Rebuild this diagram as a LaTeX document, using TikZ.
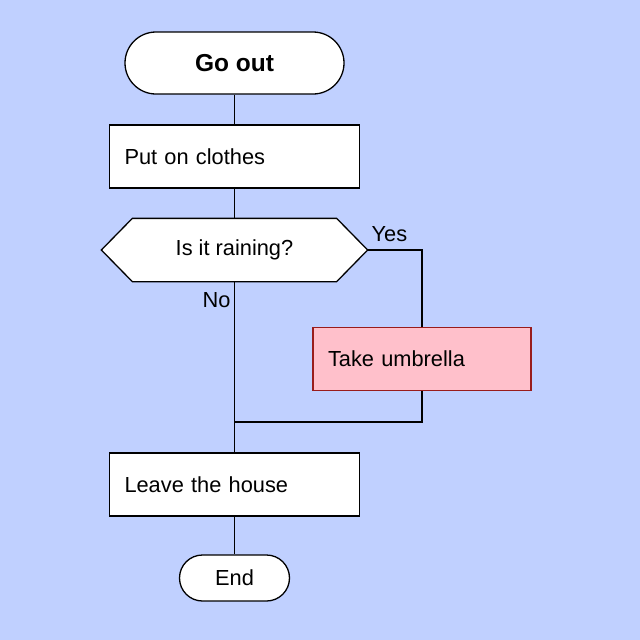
\documentclass[tikz,border=0pt]{standalone}
\usepackage{fontspec}
\setmainfont{Liberation Sans}
\usetikzlibrary{positioning,shapes.misc,backgrounds}
\definecolor{bgblue}{HTML}{C0D0FF}
\definecolor{umbpink}{HTML}{FFC0CB}
\definecolor{umbred}{HTML}{991C1C}

\begin{document}
\begin{tikzpicture}[
    x=1pt, y=-1pt,
    font=\fontsize{21.8}{26}\selectfont,
    every path/.style={line width=1.3pt},
    terminal/.style={rounded rectangle, draw=black, fill=white, minimum height=62pt, inner sep=0pt},
    stepbox/.style={rectangle, draw=black, fill=white, minimum width=250pt, minimum height=63pt, text width=220pt, inner xsep=15pt, align=left},
    decision/.style={rectangle, minimum width=265pt, minimum height=62pt, inner sep=0pt},
    ]
    %Nodes
    \node[terminal, minimum width=219pt, font=\fontsize{24.5}{28}\selectfont\bfseries] (start) at (234.5,63) {Go out};
    \node[stepbox]   (clothes) [below=29.7pt of start] {Put on clothes};
    \node[decision]  (rain)    [below=29.7pt of clothes] {Is it raining?};
    \node[stepbox, draw=umbred, fill=umbpink, minimum width=218pt, text width=188pt] (umbrella) at (422,359) {Take umbrella};
    \node[stepbox]   (leave)   [below=170.7pt of rain] {Leave the house};
    \node[terminal, minimum width=110pt, minimum height=46pt] (finish) [below=37.7pt of leave] {End};
    \coordinate (join) at (235,422);

    %Background and hexagon
    \begin{scope}[on background layer]
    \fill[bgblue] (0,0) rectangle (640,640);
    \draw[fill=white] (rain.west) -- ([xshift=31pt]rain.north west) -- ([xshift=-31pt]rain.north east)
        -- (rain.east) -- ([xshift=-31pt]rain.south east) -- ([xshift=31pt]rain.south west) -- cycle;
    \end{scope}

    %Lines
    \draw (start.south) -- (clothes.north);
    \draw (clothes.south) -- (rain.north);
    \draw (rain.east) -| node[pos=0, above right, yshift=4pt] {Yes} (umbrella.north);
    \draw (rain.south) -- node[pos=0, below left, yshift=-7pt] {No} (leave.north);
    \draw (umbrella.south) |- (join);
    \draw (leave.south) -- (finish.north);
\end{tikzpicture}
\end{document}
